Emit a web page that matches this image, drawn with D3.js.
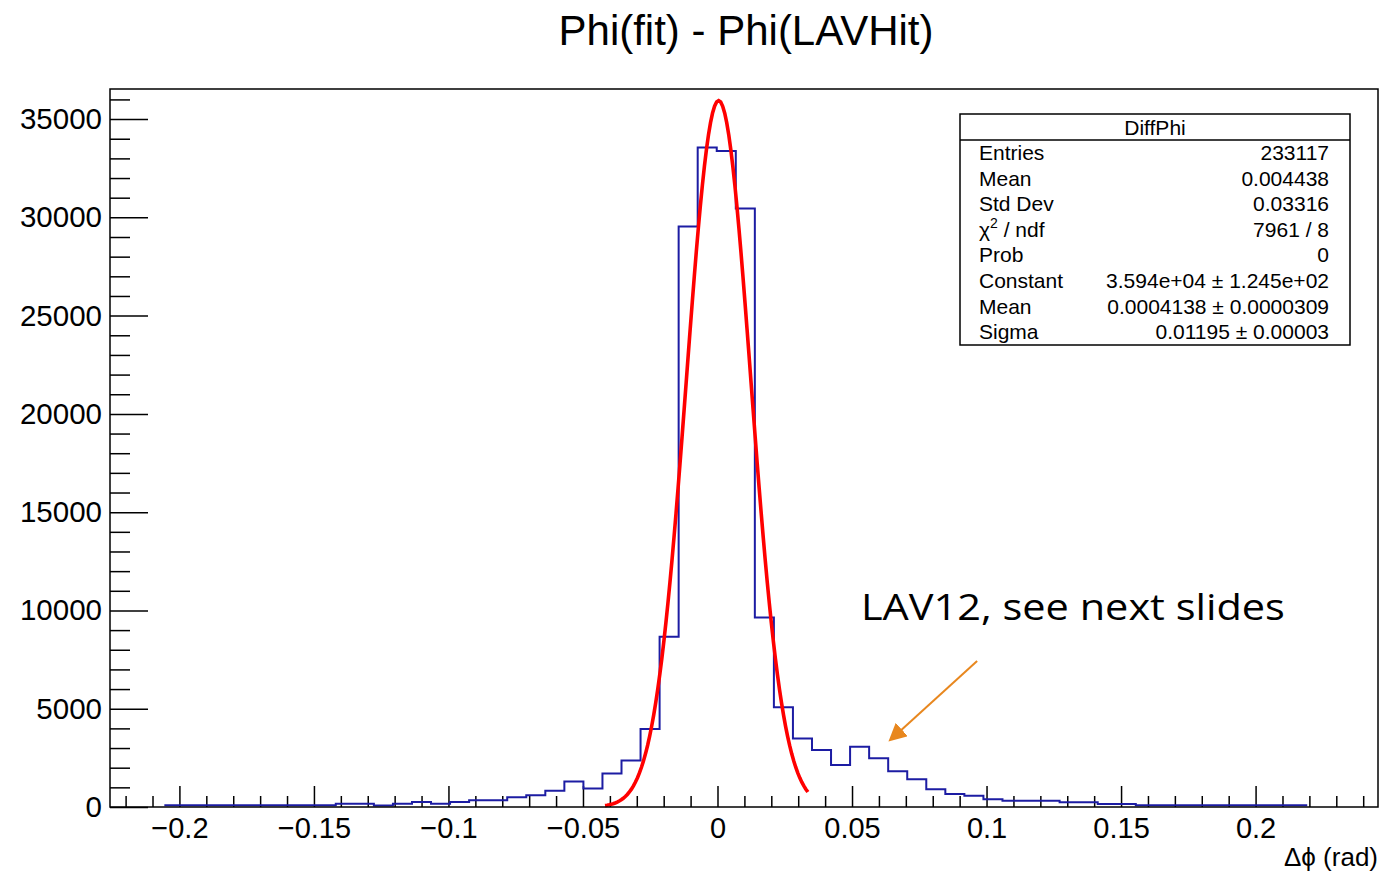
<!DOCTYPE html>
<html>
<head>
<meta charset="utf-8">
<script src="https://cdn.jsdelivr.net/npm/d3@7"></script>
<style>
  body { margin: 0; background: #fff; }
  text { font-family: "Liberation Sans", Arial, sans-serif; fill: #000; }
  .tick line { stroke: #000; stroke-width: 1.5; }
  .domain { display: none; }
</style>
</head>
<body>
<div id="chart-area"></div>
<script>
// histogram: 60 bins, content
const binLow = -0.2056;
const binWidth = 0.00708;
const counts = [
    90, 90, 90, 90, 90, 90, 90, 90, 90,
    170, 170, 70, 170, 250, 170, 250, 340, 340, 490, 600,
    830, 1300, 935, 1700, 2360, 3970, 8660, 29540, 33550, 33370,
    30450, 9640, 5080, 3480, 2900, 2140, 3070, 2475, 1820, 1410,
    900, 660, 575, 390, 320, 320, 320, 240, 240, 150, 150,
    85, 85, 85, 85, 85, 85, 85, 85, 85
];
// gaus fit: constant, mean, sigma (from the stats box) and its range
const fitParams = [35940, 0.0004138, 0.01195];
const fitRange = [-0.0418, 0.0336];

const xMajorTicks = [-0.2, -0.15, -0.1, -0.05, 0, 0.05, 0.1, 0.15, 0.2];
const xTickLabels = ["\u22120.2", "\u22120.15", "\u22120.1", "\u22120.05", "0", "0.05", "0.1", "0.15", "0.2"];
const yMajorTicks = [0, 5000, 10000, 15000, 20000, 25000, 30000, 35000];

const statsLabels = ["Entries", "Mean", "Std Dev", "chi2", "Prob", "Constant", "Mean", "Sigma"];
const statsValues = ["233117", "0.004438", "0.03316", "7961 / 8", "0",
    "3.594e+04 \u00b1 1.245e+02", "0.0004138 \u00b1 0.0000309", "0.01195 \u00b1 0.00003"];

const chartSize = { width: 1383, height: 875 };
const frame = { left: 110, top: 89, right: 1378, bottom: 807 };
const orange = "#e8871e";

const svg = d3
    .select("#chart-area")
    .append("svg")
    .attr("width", chartSize.width)
    .attr("height", chartSize.height);

svg.append("rect")
    .attr("width", chartSize.width)
    .attr("height", chartSize.height)
    .attr("fill", "#fff");

const x = d3.scaleLinear().domain([-0.2258, 0.2455]).range([frame.left, frame.right]);
const y = d3.scaleLinear().domain([0, 36530]).range([frame.bottom, frame.top]);

// title
svg.append("text")
    .attr("x", 746)
    .attr("y", 45)
    .attr("text-anchor", "middle")
    .style("font-size", "42px")
    .text("Phi(fit) - Phi(LAVHit)");

// y axis, ticks drawn inwards
const yMinor = d3.range(0, 36001, 1000).filter(d => d % 5000 !== 0);
svg.append("g")
    .attr("transform", `translate(${frame.left},0)`)
    .call(d3.axisLeft(y).tickValues(yMinor).tickSize(-20).tickFormat(""));
svg.append("g")
    .attr("class", "y-axis")
    .attr("transform", `translate(${frame.left},0)`)
    .call(d3.axisLeft(y).tickValues(yMajorTicks).tickSize(-38).tickPadding(8)
        .tickFormat(d3.format("d")))
    .selectAll("text")
    .style("font-size", "29.5px");

// x axis
const xMinor = d3.range(-22, 25).map(d => d / 100).filter(d => Math.round(d * 100) % 5 !== 0);
svg.append("g")
    .attr("transform", `translate(0,${frame.bottom})`)
    .call(d3.axisBottom(x).tickValues(xMinor).tickSize(-11).tickFormat(""));
svg.append("g")
    .attr("class", "x-axis")
    .attr("transform", `translate(0,${frame.bottom})`)
    .call(d3.axisBottom(x).tickValues(xMajorTicks).tickSize(-21).tickPadding(10)
        .tickFormat((d, i) => xTickLabels[i]))
    .selectAll("text")
    .style("font-size", "29px");

svg.append("text")
    .attr("x", frame.right)
    .attr("y", 866)
    .attr("text-anchor", "end")
    .style("font-size", "26px")
    .text("\u0394\u03d5 (rad)");

// histogram outline
const histPoints = counts.map((c, i) => [binLow + i * binWidth, c]);
histPoints.push([binLow + counts.length * binWidth, counts[counts.length - 1]]);
const histLine = d3
    .line()
    .x(d => x(d[0]))
    .y(d => y(d[1]))
    .curve(d3.curveStepAfter);
svg.append("path")
    .attr("d", histLine(histPoints))
    .attr("fill", "none")
    .attr("stroke", "#1c1ca3")
    .attr("stroke-width", 2);

// fitted gaussian
const [fitC, fitMean, fitSigma] = fitParams;
const gaus = v => fitC * Math.exp(-0.5 * Math.pow((v - fitMean) / fitSigma, 2));
const fitX = d3.range(0, 101).map(k => fitRange[0] + (fitRange[1] - fitRange[0]) * k / 100);
svg.append("path")
    .attr("d", d3.line().x(v => x(v)).y(v => y(gaus(v)))(fitX))
    .attr("fill", "none")
    .attr("stroke", "#ff0000")
    .attr("stroke-width", 3.6);

// frame
svg.append("rect")
    .attr("x", frame.left)
    .attr("y", frame.top)
    .attr("width", frame.right - frame.left)
    .attr("height", frame.bottom - frame.top)
    .attr("fill", "none")
    .attr("stroke", "#000")
    .attr("stroke-width", 1.5);

// stats box
const box = { x: 960, y: 114, w: 390, h: 231, head: 26, row: 25.6 };
const statsG = svg.append("g").attr("class", "stats");
statsG.append("rect")
    .attr("x", box.x)
    .attr("y", box.y)
    .attr("width", box.w)
    .attr("height", box.h)
    .attr("fill", "#fff")
    .attr("stroke", "#000")
    .attr("stroke-width", 1.5);
statsG.append("line")
    .attr("x1", box.x)
    .attr("x2", box.x + box.w)
    .attr("y1", box.y + box.head)
    .attr("y2", box.y + box.head)
    .attr("stroke", "#000")
    .attr("stroke-width", 1.5);
statsG.append("text")
    .attr("x", box.x + box.w / 2)
    .attr("y", box.y + 21)
    .attr("text-anchor", "middle")
    .style("font-size", "21px")
    .text("DiffPhi");
statsLabels.forEach((label, i) => {
    const ty = box.y + box.head + 20 + i * box.row;
    const t = statsG.append("text")
        .attr("x", box.x + 19)
        .attr("y", ty)
        .style("font-size", "21px");
    if (label === "chi2") {
        t.append("tspan").text("\u03c7");
        t.append("tspan").attr("dy", -9).style("font-size", "14px").text("2");
        t.append("tspan").attr("dy", 9).text(" / ndf");
    } else {
        t.text(label);
    }
    statsG.append("text")
        .attr("x", box.x + box.w - 21)
        .attr("y", ty)
        .attr("text-anchor", "end")
        .style("font-size", "21px")
        .text(statsValues[i]);
});

// annotation
svg.append("text")
    .attr("x", x(0.0533))
    .attr("y", y(9512))
    .attr("textLength", 424)
    .attr("lengthAdjust", "spacingAndGlyphs")
    .style("font-family", "'Open Sans', sans-serif")
    .style("font-size", "36px")
    .text("LAV12, see next slides");

svg.append("defs")
    .append("marker")
    .attr("id", "head")
    .attr("viewBox", "0 0 10 10")
    .attr("refX", 2)
    .attr("refY", 5)
    .attr("markerWidth", 9)
    .attr("markerHeight", 9)
    .attr("markerUnits", "strokeWidth")
    .attr("orient", "auto")
    .append("path")
    .attr("d", "M0,0 L10,5 L0,10 z")
    .attr("fill", orange);
svg.append("line")
    .attr("x1", x(0.0965))
    .attr("y1", y(7426))
    .attr("x2", x(0.0675))
    .attr("y2", y(3820))
    .attr("stroke", orange)
    .attr("stroke-width", 2)
    .attr("marker-end", "url(#head)");
</script>
</body>
</html>
